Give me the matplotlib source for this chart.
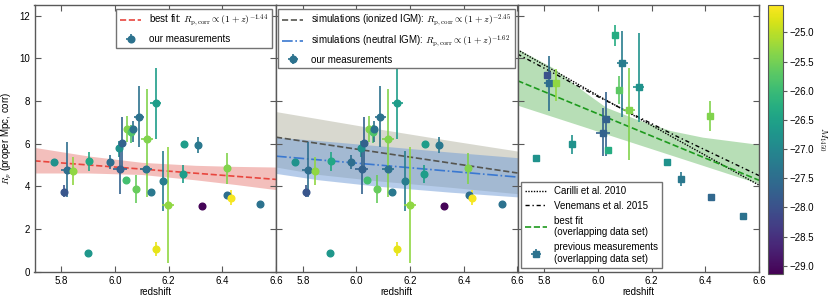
import numpy as np
import matplotlib
matplotlib.use('Agg')
import matplotlib.pyplot as plt
from matplotlib import colors

plt.rcParams['font.family'] = ['Liberation Sans', 'DejaVu Sans']
plt.rcParams['mathtext.fontset'] = 'cm'
plt.rcParams['font.size'] = 7

# our measurements (panels 1 and 2)
z_ours = [5.771, 5.820, 5.810, 5.845, 5.900, 5.904, 5.981, 6.016, 6.027, 6.019, 6.040, 6.046, 6.060, 6.066,
          6.089, 6.078, 6.118, 6.116, 6.133, 6.152, 6.152, 6.180, 6.199, 6.252, 6.257, 6.308, 6.325, 6.416,
          6.419, 6.432, 6.541]
R_ours = [5.15, 4.78, 3.75, 4.72, 0.87, 5.17, 5.15, 5.79, 6.04, 4.79, 4.29, 6.69, 6.52, 6.68,
          7.25, 3.87, 6.23, 4.79, 3.74, 7.92, 1.06, 4.24, 3.12, 4.58, 6.00, 5.92, 3.05, 4.84,
          3.57, 3.46, 3.17]
R_ours_lo = [0, 1.28, 0.27, 0.67, 0, 0.45, 0.33, 0.40, 1.13, 1.17, 0, 0.60, 0.50, 0.60,
             1.40, 0.66, 2.73, 0, 0, 1.70, 0.33, 1.40, 2.70, 0.42, 0, 0.37, 0, 0.72,
             0, 0.35, 0]
R_ours_hi = [0, 1.30, 0.30, 0.65, 0, 0.45, 0.33, 0.35, 1.20, 1.20, 0, 0.60, 0.35, 0.40,
             1.45, 0.66, 2.35, 0, 0, 1.62, 0.32, 1.40, 2.70, 0.42, 0, 0.37, 0, 0.70,
             0, 0.35, 0]
z_ours_err = [0, 0.022, 0, 0, 0, 0, 0, 0, 0, 0.025, 0, 0, 0, 0,
              0.02, 0, 0.022, 0.022, 0, 0.02, 0, 0, 0.022, 0, 0, 0, 0, 0,
              0, 0, 0]
M_ours = [-26.8, -27.5, -27.9, -25.3, -26.7, -26.4, -27.5, -26.8, -27.7, -27.7, -25.9, -25.4, -25.8, -27.4,
          -27.4, -25.6, -25.4, -27.4, -27.3, -26.6, -24.7, -27.2, -25.3, -26.6, -26.6, -27.3, -29.1, -25.4,
          -27.5, -24.6, -27.4]

# previous measurements (panel 3)
z_prev = [5.809, 5.819, 5.843, 5.769, 5.904, 6.018, 6.030, 6.039, 6.065, 6.091, 6.078, 6.115, 6.151,
          6.256, 6.310, 6.418, 6.420, 6.542]
R_prev = [9.20, 8.84, 8.82, 5.32, 5.96, 6.49, 7.13, 5.72, 11.08, 9.80, 8.51, 7.56, 8.64,
          5.13, 4.35, 7.31, 3.50, 2.61]
R_prev_lo = [0, 1.30, 0.80, 0, 0.45, 1.05, 1.70, 0, 0.50, 2.57, 0.65, 2.35, 1.64,
             0, 0.35, 0.70, 0, 0]
R_prev_hi = [0, 1.25, 0.70, 0, 0.45, 1.20, 1.30, 0, 0.50, 1.48, 0.65, 2.00, 2.56,
             0, 0.30, 0.70, 0, 0]
z_prev_err = [0, 0.02, 0, 0, 0, 0.025, 0.015, 0, 0, 0.022, 0, 0.022, 0.02,
              0, 0, 0, 0, 0]
M_prev = [-28.0, -27.5, -25.3, -26.8, -26.8, -27.7, -27.7, -26.3, -26.3, -27.2, -25.7, -25.4, -26.8,
          -26.8, -27.3, -25.4, -27.6, -27.4]

# fits and bands
fit_z = [5.7, 6.6]
fit1_R = [5.19, 4.32]
band1_z = [5.7, 5.9, 6.1, 6.3, 6.45, 6.6]
band1_lo = [4.62, 4.62, 4.55, 4.30, 4.08, 3.84]
band1_hi = [5.82, 5.42, 5.12, 4.98, 4.93, 4.90]

ion_R = [6.30, 4.62]
neu_R = [5.41, 4.43]
sim_z = [5.7, 5.86, 6.08, 6.35, 6.6]
ion_hi = [7.50, 7.16, 6.69, 6.14, 5.65]
ion_lo = [4.90, 4.55, 4.25, 3.95, 3.65]
neu_hi = [6.30, 6.14, 5.90, 5.60, 5.34]
neu_lo = [4.60, 4.30, 4.00, 3.72, 3.50]

fit3_R = [8.95, 4.28]
band3_z = [5.7, 5.83, 5.96, 6.03, 6.14, 6.27, 6.39, 6.6]
band3_hi = [10.45, 9.57, 8.33, 7.70, 7.16, 6.61, 6.30, 5.96]
band3_lo = [7.80, 7.27, 6.74, 6.45, 6.00, 5.47, 4.98, 4.12]

lit_z = [5.7, 6.0, 6.3, 6.6]
carilli_R = [10.40, 8.25, 6.15, 4.05]
venemans_R = [10.20, 8.20, 6.30, 4.50]

cmap = plt.get_cmap('viridis')
norm = colors.Normalize(vmin=-29.14, vmax=-24.53)
legend_col = cmap(norm(-27.4))
spine_col = '0.35'


def draw_points(ax, z, R, zerr, lo, hi, M, marker):
    for i in range(len(z)):
        c = cmap(norm(M[i]))
        ax.errorbar(z[i], R[i], xerr=zerr[i], yerr=[[lo[i]], [hi[i]]], fmt=marker, color=c,
                    mec=c, ms=4.8, elinewidth=1.2, capsize=0, zorder=3)


fig = plt.figure(figsize=(8.3, 3.03), dpi=100)
w = 241.5 / 830
axs = [fig.add_axes([l / 830, 31.5 / 303, w, 266.5 / 303]) for l in (34.5, 276, 517.5)]

for ax in axs:
    ax.set_xlim(5.7, 6.6)
    ax.set_ylim(0, 12.5)
    ax.set_xticks([5.8, 6.0, 6.2, 6.4, 6.6])
    ax.set_yticks(range(0, 13, 2))
    ax.tick_params(direction='in', top=True, right=True, length=4, color=spine_col, pad=3)
    for s in ax.spines.values():
        s.set_color(spine_col)
        s.set_linewidth(1.0)
    ax.set_xlabel('redshift', labelpad=1)
axs[1].tick_params(labelleft=False)
axs[2].tick_params(labelleft=False)
axs[0].set_ylabel(r'$R_p$ (proper Mpc, corr)', labelpad=4)

leg_kw = dict(fontsize=7, fancybox=False, edgecolor='0.45', framealpha=1, borderaxespad=0.4,
              handlelength=2.2, labelspacing=0.5)

# panel 1
ax = axs[0]
ax.fill_between(band1_z, band1_lo, band1_hi, color='#e9807a', alpha=0.5, lw=0, zorder=1)
ax.plot(fit_z, fit1_R, '--', color='#e8463e', lw=1.2, zorder=2,
        label=r'best fit: $R_{\rm p,corr} \propto (1+z)^{-1.44}$')
draw_points(ax, z_ours, R_ours, z_ours_err, R_ours_lo, R_ours_hi, M_ours, 'o')
ax.errorbar([np.nan], [np.nan], xerr=[1], yerr=[1], fmt='o', color=legend_col, ms=4.8,
            elinewidth=1.2, label='our measurements')
ax.legend(loc='upper right', **leg_kw)

# panel 2
ax = axs[1]
ax.fill_between(sim_z, ion_lo, ion_hi, color='#b9b9a8', alpha=0.55, lw=0, zorder=1)
ax.fill_between(sim_z, neu_lo, neu_hi, color='#6f9bd6', alpha=0.5, lw=0, zorder=1)
ax.plot(fit_z, ion_R, '--', color='#555550', lw=1.2, zorder=2,
        label=r'simulations (ionized IGM): $R_{\rm p,corr} \propto (1+z)^{-2.45}$')
ax.plot(fit_z, neu_R, '-.', color='#3a78d0', lw=1.2, zorder=2,
        label=r'simulations (neutral IGM): $R_{\rm p,corr} \propto (1+z)^{-1.62}$')
draw_points(ax, z_ours, R_ours, z_ours_err, R_ours_lo, R_ours_hi, M_ours, 'o')
ax.errorbar([np.nan], [np.nan], xerr=[1], yerr=[1], fmt='o', color=legend_col, ms=4.8,
            elinewidth=1.2, label='our measurements')
ax.legend(loc='upper center', **leg_kw)

# panel 3
ax = axs[2]
ax.fill_between(band3_z, band3_lo, band3_hi, color='#7cc47a', alpha=0.55, lw=0, zorder=1)
ax.plot(lit_z, carilli_R, linestyle=(0, (1, 1)), color='k', lw=1.0, zorder=2, label='Carilli et al. 2010')
ax.plot(lit_z, venemans_R, linestyle=(0, (3, 2, 1, 2)), color='k', lw=1.0, zorder=2,
        label='Venemans et al. 2015')
ax.plot(fit_z, fit3_R, '--', color='#1e9a1e', lw=1.2, zorder=2, label='best fit\n(overlapping data set)')
draw_points(ax, z_prev, R_prev, z_prev_err, R_prev_lo, R_prev_hi, M_prev, 's')
ax.errorbar([np.nan], [np.nan], xerr=[1], yerr=[1], fmt='s', color=legend_col, ms=4.8,
            elinewidth=1.2, label='previous measurements\n(overlapping data set)')
ax.legend(loc='lower left', **leg_kw)

# colorbar
cax = fig.add_axes([768.3 / 830, 29 / 303, 14.4 / 830, 269 / 303])
sm = plt.cm.ScalarMappable(norm=norm, cmap=cmap)
cb = fig.colorbar(sm, cax=cax)
cb.set_ticks(np.arange(-29.0, -24.9, 0.5))
cb.ax.yaxis.set_major_formatter(matplotlib.ticker.FormatStrFormatter('\u2212%.1f'))
cb.set_ticklabels(['\u2212%.1f' % abs(v) for v in np.arange(-29.0, -24.9, 0.5)])
cb.ax.tick_params(length=3, color=spine_col, pad=2)
cb.outline.set_edgecolor(spine_col)
cb.set_label(r'$M_{1450}$', rotation=270, labelpad=10)

fig.savefig('out.png', dpi=100)
